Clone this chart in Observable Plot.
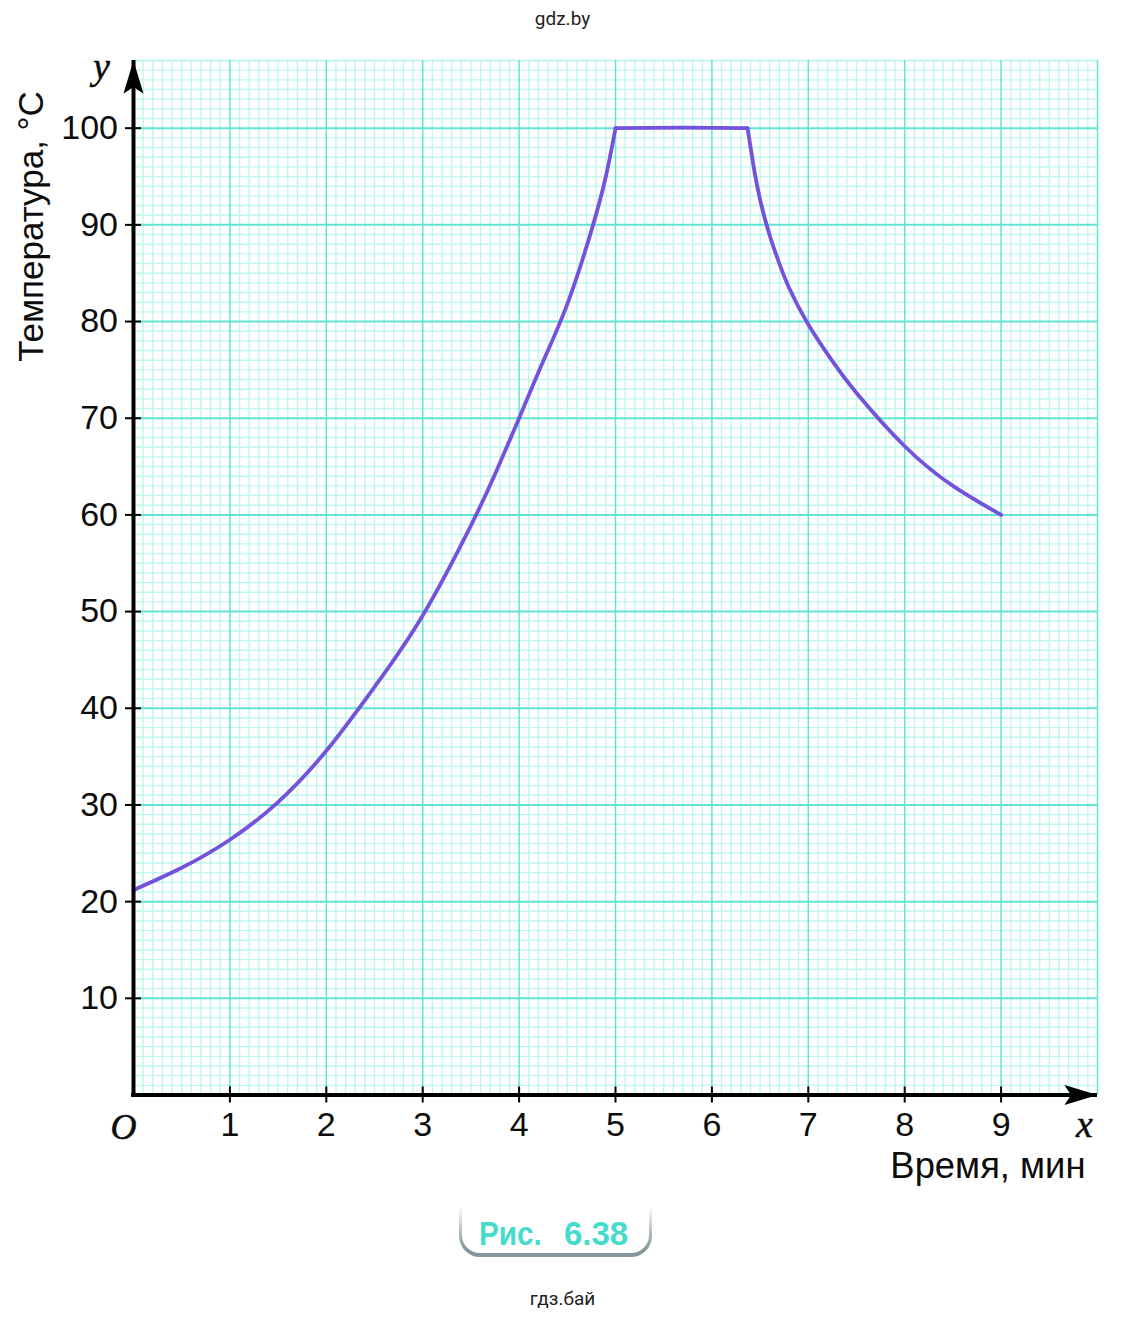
<!DOCTYPE html>
<html><head><meta charset="utf-8">
<script src="https://cdn.jsdelivr.net/npm/d3@7"></script>
<script src="https://cdn.jsdelivr.net/npm/@observablehq/plot@0.6"></script>
<style>
html,body{margin:0;padding:0;background:#fff}
#wrap{position:relative;width:1126px;height:1319px;overflow:hidden}
#badge{position:absolute;left:459px;top:1196px;width:193px;height:61px;border-radius:0 0 21px 21px;
 background:linear-gradient(#fff 0%,#fff 18%,#b9c4c4 55%,#84979a 88%)}
#badge div{position:absolute;left:3px;right:3px;top:0;bottom:4px;background:#fff;border-radius:0 0 18px 18px;
 font:bold 33px "Liberation Sans",sans-serif;color:#45dccd;white-space:pre;line-height:76px}
#badge span{position:absolute;top:0;transform-origin:left center}
</style></head><body><div id="wrap"><div id="plot"></div>
<div id="badge"><div><span style="left:17px;transform:scaleX(.9)">Рис.</span><span style="left:102px">6.38</span></div></div></div>
<script>
const timeMin = [0,0.5,1,1.5,2,2.5,3,3.5,3.75,4,4.25,4.5,4.75,4.9,5, 5,5.7,6.37, 6.37,6.43,6.5,6.6,6.7,6.8,7,7.25,7.5,8,8.5,9];
const tempC   = [21.2,23.5,26.4,30.3,35.6,42.2,49.6,58.9,64.2,70,75.9,81.8,89.4,95,100, 100,100.05,100, 100,96.2,92.6,88.9,86,83.5,79.7,75.9,72.6,67.1,63,60];
const phase   = ["h","h","h","h","h","h","h","h","h","h","h","h","h","h","h","b","b","b","c","c","c","c","c","c","c","c","c","c","c","c"];
const xTicks = [1,2,3,4,5,6,7,8,9];
const yTicks = [10,20,30,40,50,60,70,80,90,100];
const xMinor = d3.range(0,101).map(d=>d/10).filter(d=>d%1!==0);
const yMinor = d3.range(1,108).filter(d=>d%10!==0);
const xMajorGrid = [1,2,3,4,5,6,7,8,9,10];
const curveData = timeMin.map((t,i)=>({t,v:tempC[i],p:phase[i]}));

const axisColor="#000", minorC="#c0f6f0", majorC="#62e4d5", curveC="#7452dc", ink="#0c0c0c";
const sans='"Liberation Sans",sans-serif', serif='"Liberation Serif",serif';
const head=(w,n)=>({draw(c,l){c.moveTo(0,-l);c.lineTo(w,0);c.quadraticCurveTo(3,-n*.6,0,-n);c.quadraticCurveTo(-3,-n*.6,-w,0);c.closePath();}});

const chart = Plot.plot({
  width:1126,height:1319,
  marginLeft:133,marginRight:29,marginTop:60,marginBottom:224.5,
  x:{domain:[0,10],axis:null},
  y:{domain:[0,107],axis:null},
  style:{background:"#fff",fontFamily:sans},
  marks:[
    Plot.ruleX(xMinor,{stroke:minorC,strokeWidth:1.4}),
    Plot.ruleY(yMinor,{stroke:minorC,strokeWidth:1.4}),
    Plot.ruleY([107],{stroke:minorC,strokeWidth:1.4}),
    Plot.ruleX(xMajorGrid,{stroke:majorC,strokeWidth:1.5}),
    Plot.ruleY(yTicks,{stroke:majorC,strokeWidth:2}),
    Plot.line(curveData,{x:"t",y:"v",z:"p",curve:"natural",stroke:curveC,strokeWidth:3.8,strokeLinejoin:"round",strokeLinecap:"round"}),
    Plot.ruleX([0],{stroke:axisColor,strokeWidth:4,insetBottom:-2}),
    Plot.ruleY([0],{stroke:axisColor,strokeWidth:4,insetLeft:-2}),
    Plot.ruleX(xTicks,{y1:0,y2:0,insetTop:-8,insetBottom:-8,stroke:axisColor,strokeWidth:2}),
    Plot.ruleY(yTicks,{x1:0,x2:0,insetLeft:-8,insetRight:-8,stroke:axisColor,strokeWidth:2}),
    Plot.vector([0],{x:0,y:107,length:33,rotate:0,anchor:"end",shape:head(10,7),fill:axisColor,stroke:"none"}),
    Plot.vector([0],{x:10,y:0,length:33,rotate:90,anchor:"end",shape:head(10,7),fill:axisColor,stroke:"none"}),
    Plot.axisX(xTicks,{tickSize:0,tickPadding:17,fontSize:34,label:null,fill:ink,fontFamily:sans}),
    Plot.axisY(yTicks,{tickSize:0,tickPadding:15.5,fontSize:34,label:null,fill:ink,fontFamily:sans}),
    Plot.text(["O"],{x:0,y:0,dx:-10,dy:32,fontSize:36,fontStyle:"italic",fontFamily:serif,fill:ink,stroke:ink,strokeWidth:.5}),
    Plot.text(["x"],{x:10,y:0,dx:-13,dy:30,fontSize:38,fontStyle:"italic",fontFamily:serif,fill:ink,stroke:ink,strokeWidth:.5}),
    Plot.text(["y"],{x:0,y:107,dx:-32,dy:6,fontSize:38,fontStyle:"italic",fontFamily:serif,fill:ink,stroke:ink,strokeWidth:.5}),
    Plot.text(["Время, мин"],{frameAnchor:"bottom-right",textAnchor:"end",lineAnchor:"middle",dx:-12,dy:71.5,fontSize:36.4,fill:ink,fontFamily:sans}),
    Plot.text(["Температура, °С"],{frameAnchor:"top-left",rotate:-90,textAnchor:"middle",lineAnchor:"middle",dx:-102,dy:166,fontSize:35,fill:ink,fontFamily:sans}),
    Plot.text(["gdz.by"],{frameAnchor:"top",lineAnchor:"middle",dx:-53,dy:-42,fontSize:19,fill:"#222",fontFamily:"Roboto"}),
    Plot.text(["гдз.бай"],{frameAnchor:"bottom",lineAnchor:"middle",dx:-53,dy:203.5,fontSize:19,fill:"#222",fontFamily:"Roboto"})
  ]
});
document.getElementById("plot").append(chart);
</script></body></html>
